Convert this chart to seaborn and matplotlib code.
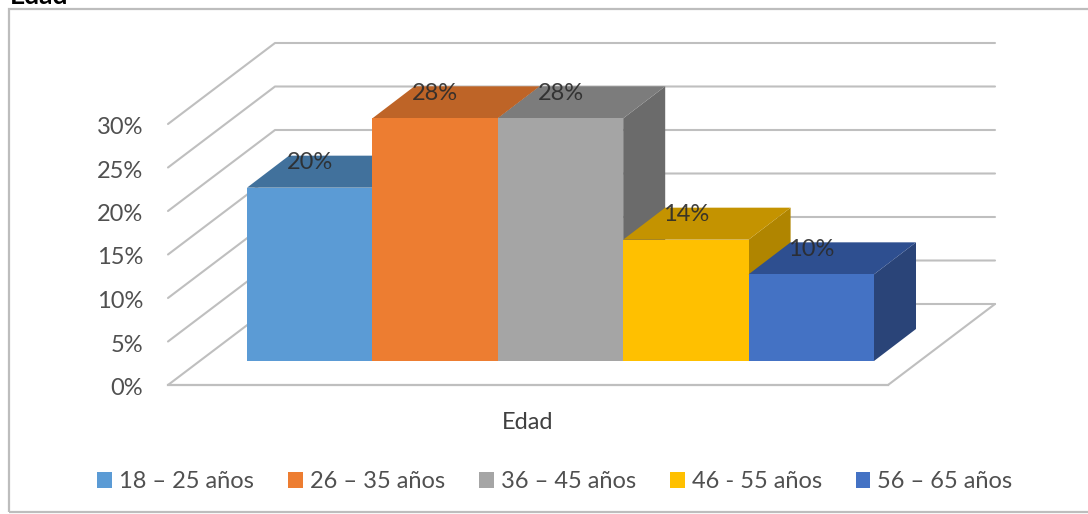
import matplotlib
matplotlib.use("Agg")
import matplotlib.pyplot as plt
import pandas as pd
import seaborn as sns
from matplotlib.patches import Polygon, Rectangle
from matplotlib.transforms import ScaledTranslation

# Survey share per age range
age_ranges = ["18 – 25 años", "26 – 35 años", "36 – 45 años", "46 - 55 años", "56 – 65 años"]
shares = [20, 28, 28, 14, 10]
group = "Edad"
y_ticks = [0, 5, 10, 15, 20, 25, 30]

front_colors = ["#5B9BD5", "#ED7D31", "#A5A5A5", "#FFC000", "#4472C4"]
top_colors = ["#41719C", "#BE6427", "#7C7C7C", "#C49300", "#2E4F90"]
side_colors = ["#3A6A94", "#A85620", "#6B6B6B", "#B08500", "#2A4478"]

W, H = 1088, 514
TEXT = "#505050"
GRID = "#BFBFBF"
FONT = "Lato"
DEPTH_WALL = (107, 81)   # oblique offset of the back wall, px
DEPTH_BAR = (42, 32)     # oblique offset of a bar's back face, px


def px_axes(left, right, bottom, top):
    """Axes placed by pixel edges, y measured from the top of the figure."""
    return fig.add_axes([left / W, 1 - bottom / H, (right - left) / W, (bottom - top) / H])


def px_to_data(ax, dx, dy):
    """Convert a pixel offset to data units of the given axes."""
    box = ax.get_window_extent()
    x0, x1 = ax.get_xlim()
    y0, y1 = ax.get_ylim()
    return dx * (x1 - x0) / box.width, dy * (y1 - y0) / box.height


sns.set_theme(style="white", rc={"font.family": FONT})
fig = plt.figure(figsize=(W / 100, H / 100), dpi=100, facecolor="white")

# Chart frame; its right edge runs off the figure
fig.add_artist(Rectangle((9 / W, 1 - 512 / H), 1.1, 503 / H, transform=fig.transFigure,
                         fill=False, edgecolor="#BDBDBD", linewidth=1.6))
fig.text(10 / W, 1 - 4 / H, group, fontsize=19, color="black", family=FONT, weight="bold",
         va="baseline", ha="left")

# Walls and floor, with the value axis in the front plane
wall = px_axes(168, 888, 385, 124)
wall.set_xlim(0, 1)
wall.set_ylim(0, 30)
wall.patch.set_alpha(0)
sns.despine(ax=wall, left=True, right=True, top=True, bottom=False)
wall.spines["bottom"].set_color(GRID)
wall.spines["bottom"].set_linewidth(1.6)
wall.set_yticks(y_ticks)
wall.set_yticklabels([f"{v}%" for v in y_ticks], fontsize=17, color=TEXT)
wall.set_xticks([0.5])
wall.set_xticklabels([group], fontsize=17, color="#404040")
wall.tick_params(axis="y", length=0, pad=18)
wall.tick_params(axis="x", length=0, pad=19.5)
nudge = ScaledTranslation(0, -0.015, fig.dpi_scale_trans)
for tick_label in wall.get_yticklabels():
    tick_label.set_transform(tick_label.get_transform() + nudge)

wx, wy = px_to_data(wall, *DEPTH_WALL)
line_kw = dict(color=GRID, linewidth=1.5, clip_on=False, solid_capstyle="round")
for v in y_ticks:
    wall.plot([0, wx, 1 + wx], [v, v + wy, v + wy], **line_kw)
wall.plot([1, 1 + wx], [0, wy], **line_kw)

# Front faces of the bars
data = pd.DataFrame({"grupo": group, "rango": age_ranges, "pct": shares})
bars = px_axes(247, 874, 361, 101)
sns.barplot(data=data, x="grupo", y="pct", hue="rango", hue_order=age_ranges,
            palette=front_colors, width=1, gap=0, saturation=1, ax=bars,
            linewidth=0, legend=True)
handles, labels = bars.get_legend_handles_labels()
bars.get_legend().remove()
bars.set_xlim(-0.5, 0.5)
bars.set_ylim(0, 30)
bars.patch.set_alpha(0)
bars.set_axis_off()

# Top and side faces, stacked from the leftmost bar to the rightmost
bx, by = px_to_data(bars, *DEPTH_BAR)
for i, container in enumerate(bars.containers):
    patch = container[0]
    x0, x1 = patch.get_x(), patch.get_x() + patch.get_width()
    h = patch.get_height()
    patch.set_zorder(2 * i + 3)
    side = Polygon([(x1, 0), (x1 + bx, by), (x1 + bx, h + by), (x1, h)],
                   facecolor=side_colors[i], edgecolor="none", clip_on=False, zorder=2 * i + 2)
    top = Polygon([(x0, h), (x0 + bx, h + by), (x1 + bx, h + by), (x1, h)],
                  facecolor=top_colors[i], edgecolor="none", clip_on=False, zorder=2 * i + 2)
    bars.add_patch(side)
    bars.add_patch(top)
    bars.annotate(f"{shares[i]}%", xy=((x0 + x1) / 2, h), xytext=(0, 25 * 0.72),
                  textcoords="offset points", ha="center", va="center", fontsize=17,
                  color="#2B2B2B", alpha=0.9, zorder=30, annotation_clip=False)

fig.legend(handles, labels, loc="center", bbox_to_anchor=(555 / W, 1 - 482 / H), ncols=5,
           frameon=False, fontsize=17, labelcolor=TEXT, handlelength=0.63, handleheight=0.63,
           handletextpad=0.3, columnspacing=1.43, borderpad=0)

fig.savefig("out.png", dpi=100, facecolor="white")
